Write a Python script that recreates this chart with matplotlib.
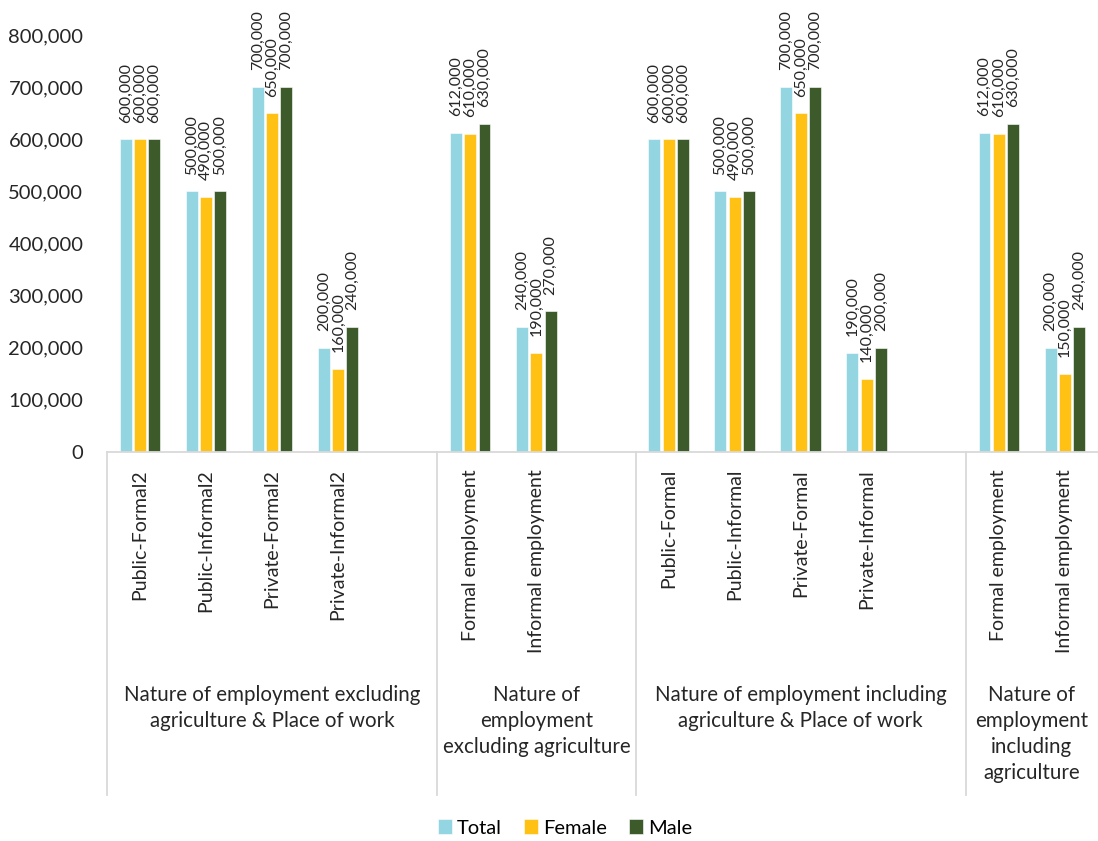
import matplotlib.pyplot as plt
import matplotlib.transforms as mtransforms
import numpy as np

plt.rcParams['font.family'] = ['Lato', 'DejaVu Sans']

# categories per group, with a blank slot after the first three groups
groups = [
    "Nature of employment excluding\nagriculture & Place of work",
    "Nature of\nemployment\nexcluding agriculture",
    "Nature of employment including\nagriculture & Place of work",
    "Nature of\nemployment\nincluding\nagriculture",
]
group_cats = [
    ["Public-Formal2", "Public-Informal2", "Private-Formal2", "Private-Informal2", ""],
    ["Formal employment", "Informal employment", ""],
    ["Public-Formal", "Public-Informal", "Private-Formal", "Private-Informal", ""],
    ["Formal employment", "Informal employment"],
]

total = [600000, 500000, 700000, 200000, None,
         612000, 240000, None,
         600000, 500000, 700000, 190000, None,
         612000, 200000]
female = [600000, 490000, 650000, 160000, None,
          610000, 190000, None,
          600000, 490000, 650000, 140000, None,
          610000, 150000]
male = [600000, 500000, 700000, 240000, None,
        630000, 270000, None,
        600000, 500000, 700000, 200000, None,
        630000, 240000]

series = [("Total", total, "#93D6E2"),
          ("Female", female, "#FFC114"),
          ("Male", male, "#3C5A2A")]

W, H = 1098, 841
fig = plt.figure(figsize=(W / 100, H / 100), dpi=100)
ax = fig.add_axes([107 / W, 1 - 452 / H, (W - 107) / W, (452 - 35) / H])

n = len(total)
xs = np.arange(n) + 0.5
offsets = [-0.218, 0.0, 0.214]
bw = 0.18

for (name, vals, col), off in zip(series, offsets):
    idx = [i for i, v in enumerate(vals) if v is not None]
    hv = [vals[i] for i in idx]
    ax.bar(xs[idx] + off, hv, width=bw, color=col, label=name,
           edgecolor='white', linewidth=0.4)
    for i, v in zip(idx, hv):
        ax.annotate(f"{v:,}", (xs[i] + off, v), xytext=(0, 12),
                    textcoords='offset points', rotation=90,
                    ha='center', va='bottom', fontsize=11.5, color='#262626')

ax.set_xlim(0, n)
ax.set_ylim(0, 800000)
ax.set_yticks(np.arange(0, 800001, 100000))
ax.set_yticklabels([f"{v:,}" for v in range(0, 800001, 100000)])
ax.tick_params(axis='y', length=0, pad=17, labelsize=14.5, labelcolor='#262626')
ax.set_xticks([])
for s in ['top', 'right', 'left']:
    ax.spines[s].set_visible(False)
ax.spines['bottom'].set_color('#D9D9D9')
ax.spines['bottom'].set_linewidth(1.3)

# multi-level category axis
trans = mtransforms.blended_transform_factory(ax.transData, fig.transFigure)
pos = 0
bounds = [0]
for g, cats in zip(groups, group_cats):
    for k, c in enumerate(cats):
        if c:
            ax.text(pos + k + 0.5, 1 - 469 / H, c, rotation=90, ha='center',
                    va='top', fontsize=14, color='#262626', transform=trans)
    ax.text(pos + len(cats) / 2, 1 - 685 / H, g, ha='center', va='top',
            fontsize=14.8, color='#262626', transform=trans, linespacing=1.38)
    pos += len(cats)
    bounds.append(pos)

for b in bounds[:-1]:
    ax.plot([b, b], [1 - 452 / H, 1 - 795 / H], color='#D9D9D9', lw=1.3,
            transform=trans, clip_on=False)

fig.legend(loc='center', bbox_to_anchor=(565 / W, 1 - 828 / H), ncol=3,
           frameon=False, fontsize=14.5, handlelength=0.7, handleheight=0.7,
           handletextpad=0.25, columnspacing=1.1)

fig.savefig('out.png', dpi=100)
